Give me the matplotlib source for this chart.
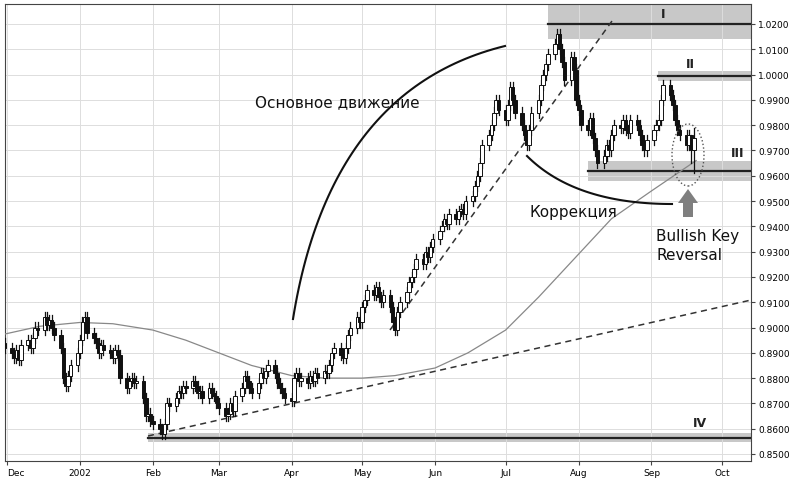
import numpy as np
import pandas as pd
import matplotlib
matplotlib.use("Agg")
import matplotlib.pyplot as plt
import matplotlib.dates as mdates
from matplotlib.patches import Rectangle, Ellipse, Polygon

# daily closes, Nov 28 2001 .. Sep 19 2002
closes = [
    0.8960, 0.8940, 0.8920, 0.8900, 0.8880, 0.8910, 0.8870, 0.8930, 0.8950, 0.8920, 0.8960, 0.9000,
    0.8990, 0.9040, 0.9010, 0.9030, 0.9000, 0.8970, 0.8920, 0.8800, 0.8770, 0.8810, 0.8850, 0.8900,
    # Jan
    0.8950, 0.9020, 0.9040, 0.8980, 0.8960, 0.8940, 0.8900, 0.8930, 0.8910, 0.8900, 0.8880, 0.8910,
    0.8890, 0.8800, 0.8760, 0.8790, 0.8800, 0.8780, 0.8790, 0.8720, 0.8650, 0.8660, 0.8630,
    # Feb
    0.8620, 0.8600, 0.8580, 0.8620, 0.8700, 0.8690, 0.8720, 0.8750, 0.8740, 0.8770, 0.8760, 0.8790,
    0.8770, 0.8740, 0.8750, 0.8720, 0.8760, 0.8740, 0.8730, 0.8700,
    # Mar
    0.8680, 0.8650, 0.8660, 0.8700, 0.8670, 0.8730, 0.8760, 0.8810, 0.8790, 0.8760, 0.8740, 0.8780,
    0.8820, 0.8800, 0.8830, 0.8850, 0.8820, 0.8780, 0.8760, 0.8740, 0.8720,
    # Apr
    0.8710, 0.8800, 0.8820, 0.8790, 0.8800, 0.8780, 0.8810, 0.8790, 0.8820, 0.8800, 0.8830, 0.8820,
    0.8850, 0.8900, 0.8920, 0.8890, 0.8880, 0.8920, 0.8970, 0.9000, 0.9040, 0.9020,
    # May
    0.9080, 0.9110, 0.9150, 0.9130, 0.9160, 0.9120, 0.9100, 0.9130, 0.9080, 0.9020, 0.8990, 0.9060,
    0.9100, 0.9140, 0.9180, 0.9200, 0.9230, 0.9270, 0.9250, 0.9300, 0.9280, 0.9320, 0.9350,
    # Jun
    0.9380, 0.9400, 0.9430, 0.9410, 0.9450, 0.9430, 0.9460, 0.9470, 0.9450, 0.9500, 0.9520, 0.9560,
    0.9600, 0.9650, 0.9720, 0.9760, 0.9800, 0.9850, 0.9900, 0.9860,
    # Jul
    0.9820, 0.9880, 0.9950, 0.9900, 0.9850, 0.9800, 0.9760, 0.9720, 0.9780, 0.9850, 0.9900, 0.9960,
    1.0000, 1.0040, 1.0080, 1.0120, 1.0160, 1.0100, 1.0050, 0.9980, 1.0070, 1.0020, 0.9900,
    # Aug
    0.9860, 0.9800, 0.9780, 0.9830, 0.9750, 0.9700, 0.9650, 0.9680, 0.9720, 0.9700, 0.9760, 0.9800,
    0.9790, 0.9820, 0.9780, 0.9770, 0.9820, 0.9800, 0.9760, 0.9720, 0.9700, 0.9740,
    # Sep
    0.9780, 0.9800, 0.9820, 0.9900, 0.9960, 0.9920, 0.9880, 0.9820, 0.9780, 0.9760, 0.9720, 0.9760,
    0.9700, 0.9750,
]
# bars with longer wicks: index from end -> (high, low)
special = {-1: (0.9790, 0.9610), -2: (0.9760, 0.9650)}

ma_dates = ["2001-11-28", "2001-12-15", "2002-01-01", "2002-01-15", "2002-02-01", "2002-02-15",
            "2002-03-01", "2002-03-15", "2002-04-01", "2002-04-15", "2002-05-01", "2002-05-15",
            "2002-06-01", "2002-06-15", "2002-07-01", "2002-07-15", "2002-08-01", "2002-08-15",
            "2002-09-01", "2002-09-20"]
ma_vals = [0.8970, 0.9005, 0.9020, 0.9015, 0.8990, 0.8950, 0.8900, 0.8850, 0.8810, 0.8800,
           0.8800, 0.8810, 0.8840, 0.8900, 0.8990, 0.9120, 0.9290, 0.9430, 0.9540, 0.9660]

dates = pd.bdate_range("2001-11-28", periods=len(closes))
xd = mdates.date2num(dates)

fig = plt.figure(figsize=(7.9, 4.81), dpi=100)
ax = fig.add_axes([5 / 790, 1 - 462 / 481, 746 / 790, 457 / 481])

# pixel -> data helper for annotations
dec1 = mdates.date2num(pd.Timestamp("2001-12-01"))
def px(x):
    return dec1 + (np.asarray(x, dtype=float) - 7) / 2.352
def py(y):
    return 1.02 - (np.asarray(y, dtype=float) - 25) / 2529.4

ax.set_xlim(px(5), px(751))
ax.set_ylim(py(462), py(5))

# bands with levels
bands = [(548, 1.0280, 1.0140, 1.0200), (658, 1.0015, 0.9975, 0.9995),
         (588, 0.9658, 0.9579, 0.9620), (148, 0.8583, 0.8547, 0.8565)]
for x0, top, bot, lvl in bands:
    ax.add_patch(Rectangle((px(x0), bot), px(760) - px(x0), top - bot,
                           color="#c8c8c8", lw=0, zorder=1))
    ax.plot([px(x0), px(760)], [lvl, lvl], color="#222222", lw=1.6, zorder=2)

# candles
w = 0.75
prev = closes[0]
for i, c in enumerate(closes):
    o = prev
    prev = c
    hi = max(o, c) + 0.0020
    lo = min(o, c) - 0.0020
    k = i - len(closes)
    if k in special:
        hi, lo = special[k]
    ax.plot([xd[i], xd[i]], [lo, hi], color="#111111", lw=0.9, zorder=4)
    body = max(abs(c - o), 0.0004)
    face = "#111111" if c < o else "white"
    ax.add_patch(Rectangle((xd[i] - w, min(o, c)), 2 * w, body, facecolor=face,
                           edgecolor="#111111", lw=0.7, zorder=5))

# moving average
ax.plot(mdates.date2num(pd.to_datetime(ma_dates)), ma_vals, color="#888888", lw=0.9, zorder=3)

# trend lines
ax.plot([px(148), px(800)], [py(437), py(290)], color="#333333", lw=1.1, ls=(0, (4, 3)), zorder=3)
ax.plot([px(390), px(612)], [py(331), py(22)], color="#333333", lw=1.1, ls=(0, (4, 3)), zorder=3)

# curves
t = np.linspace(0, 1, 60)
cx = (1 - t) ** 2 * 293 + 2 * (1 - t) * t * 330 + t ** 2 * 505
cy = (1 - t) ** 2 * 320 + 2 * (1 - t) * t * 90 + t ** 2 * 47
ax.plot(px(cx), py(cy), color="#111111", lw=1.5, zorder=6)
cx = (1 - t) ** 2 * 527 + 2 * (1 - t) * t * 575 + t ** 2 * 672
cy = (1 - t) ** 2 * 157 + 2 * (1 - t) * t * 205 + t ** 2 * 205
ax.plot(px(cx), py(cy), color="#111111", lw=1.5, zorder=6)

ax.add_patch(Ellipse((px(688), py(156)), px(704) - px(672), py(125) - py(187),
                     fill=False, ls=":", lw=1, ec="#555555", zorder=6))
arrow_px = [(683, 218), (693, 218), (693, 204), (698, 204), (688, 190), (678, 204), (683, 204)]
ax.add_patch(Polygon([(px(a), py(b)) for a, b in arrow_px], closed=True,
                     color="#7f7f7f", lw=0, zorder=6))

txt = dict(fontsize=11, color="#111111", family=["Liberation Sans Narrow", "DejaVu Sans"], zorder=7)
ax.text(px(255), py(103), "Основное движение", va="center", **txt)
ax.text(px(530), py(213), "Коррекция", va="center", **txt)
ax.text(px(656), py(246), "Bullish Key\nReversal", va="center", linespacing=1.3, **txt)
for lab, x, y in [("I", 663, 15), ("II", 690, 65), ("III", 738, 153), ("IV", 700, 423)]:
    ax.text(px(x), py(y), lab, ha="center", va="center", fontsize=9, fontweight="bold",
            color="#222222", zorder=7)

# axes styling
ax.yaxis.tick_right()
ax.set_yticks(np.arange(0.85, 1.0201, 0.01))
ax.yaxis.set_major_formatter(matplotlib.ticker.FormatStrFormatter("%.4f"))
months = pd.date_range("2001-12-01", "2002-10-01", freq="MS")
ax.set_xticks(mdates.date2num(months))
ax.set_xticklabels(["2002" if m.month == 1 else m.strftime("%b") for m in months])
ax.tick_params(labelsize=6.5, length=3, color="#444444", pad=2)
ax.get_xticklabels()[0].set_horizontalalignment("left")
ax.grid(True, color="#dddddd", lw=0.7, zorder=0)
for s in ax.spines.values():
    s.set_color("#444444")

fig.savefig("out.png", dpi=100)
